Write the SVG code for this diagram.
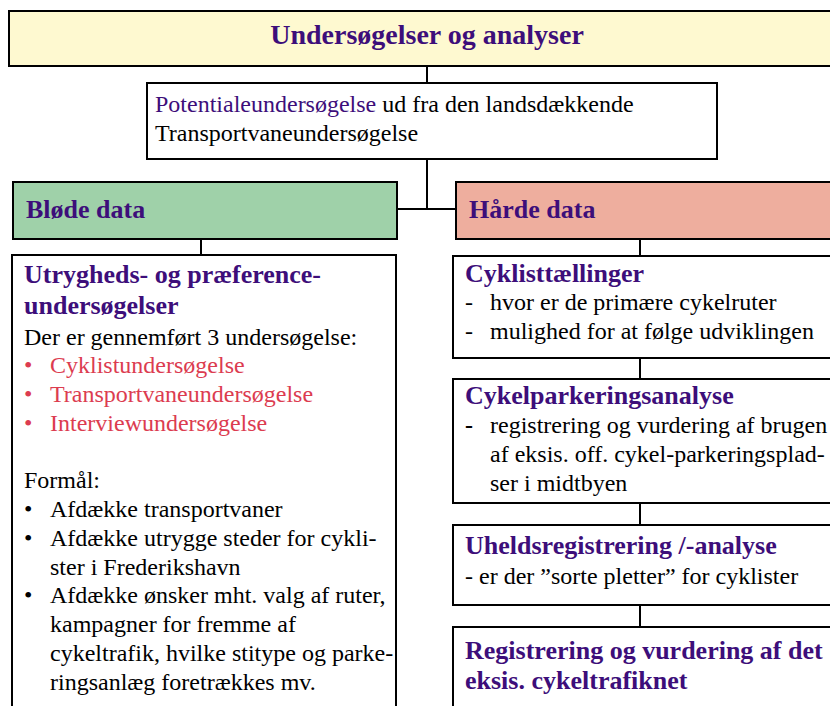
<svg xmlns="http://www.w3.org/2000/svg" width="830" height="706" viewBox="0 0 830 706">
<style>
.box{stroke:#000;stroke-width:2;fill:#fff}
.ln{stroke:#000;stroke-width:2;fill:none}
.h{font-weight:bold;fill:#3d0e7a;font-size:26px}
.b{font-size:24px;fill:#000}
.p{fill:#3d0e7a}
.r{fill:#dc3c50}
</style>
<rect width="830" height="706" fill="#fff"/>
<g id="connectors">
<path class="ln" d="M427 66V83M427 159V209M397 209H456M201 239V255M640 239V256M640 358V379M640 503V525M640 605V627"/>
</g>
<g id="top">
<rect class="box" x="9" y="11" width="830" height="55" style="fill:#fef9d0"/>
<text font-family="Liberation Serif" x="427" y="44" class="h" text-anchor="middle" style="font-size:28px">Undersøgelser og analyser</text>
</g>
<g id="potential">
<rect class="box" x="147" y="83" width="570" height="76"/>
<text font-family="Liberation Serif" class="b" x="155" y="112"><tspan class="p">Potentialeundersøgelse</tspan> ud fra den landsdækkende</text>
<text font-family="Liberation Serif" class="b" x="155" y="141">Transportvaneundersøgelse</text>
</g>
<g id="blode">
<rect class="box" x="13" y="182" width="384" height="57" style="fill:#9fd1a9"/>
<text font-family="Liberation Serif" class="h" x="26" y="218">Bløde data</text>
</g>
<g id="harde">
<rect class="box" x="456" y="182" width="380" height="57" style="fill:#eeae9e"/>
<text font-family="Liberation Serif" class="h" x="469" y="218">Hårde data</text>
</g>
<g id="utryghed">
<rect class="box" x="12" y="255" width="384" height="460"/>
<text font-family="Liberation Serif" class="h" x="24" y="283">Utrygheds- og præference-</text>
<text font-family="Liberation Serif" class="h" x="24" y="314">undersøgelser</text>
<text font-family="Liberation Serif" class="b" x="24" y="345">Der er gennemført 3 undersøgelse:</text>
<text font-family="Liberation Serif" class="b r" x="24" y="373">•</text><text font-family="Liberation Serif" class="b r" x="50" y="373">Cyklistundersøgelse</text>
<text font-family="Liberation Serif" class="b r" x="24" y="402">•</text><text font-family="Liberation Serif" class="b r" x="50" y="402">Transportvaneundersøgelse</text>
<text font-family="Liberation Serif" class="b r" x="24" y="431">•</text><text font-family="Liberation Serif" class="b r" x="50" y="431">Interviewundersøgelse</text>
<text font-family="Liberation Serif" class="b" x="24" y="488">Formål:</text>
<text font-family="Liberation Serif" class="b" x="24" y="517">•</text><text font-family="Liberation Serif" class="b" x="50" y="517">Afdække transportvaner</text>
<text font-family="Liberation Serif" class="b" x="24" y="546">•</text><text font-family="Liberation Serif" class="b" x="50" y="546">Afdække utrygge steder for cykli-</text>
<text font-family="Liberation Serif" class="b" x="50" y="575">ster i Frederikshavn</text>
<text font-family="Liberation Serif" class="b" x="24" y="603">•</text><text font-family="Liberation Serif" class="b" x="50" y="603">Afdække ønsker mht. valg af ruter,</text>
<text font-family="Liberation Serif" class="b" x="50" y="632">kampagner for fremme af</text>
<text font-family="Liberation Serif" class="b" x="50" y="661">cykeltrafik, hvilke stitype og parke-</text>
<text font-family="Liberation Serif" class="b" x="50" y="690">ringsanlæg foretrækkes mv.</text>
</g>
<g id="cyklist">
<rect class="box" x="453" y="256" width="385" height="102"/>
<text font-family="Liberation Serif" class="h" x="465" y="282">Cyklisttællinger</text>
<text font-family="Liberation Serif" class="b" x="465" y="310">-</text><text font-family="Liberation Serif" class="b" x="490" y="310">hvor er de primære cykelruter</text>
<text font-family="Liberation Serif" class="b" x="465" y="339">-</text><text font-family="Liberation Serif" class="b" x="490" y="339">mulighed for at følge udviklingen</text>
</g>
<g id="parkering">
<rect class="box" x="453" y="379" width="385" height="124"/>
<text font-family="Liberation Serif" class="h" x="465" y="404">Cykelparkeringsanalyse</text>
<text font-family="Liberation Serif" class="b" x="465" y="433" font-weight="bold">-</text><text font-family="Liberation Serif" class="b" x="490" y="433">registrering og vurdering af brugen</text>
<text font-family="Liberation Serif" class="b" x="490" y="462">af eksis. off. cykel-parkeringsplad-</text>
<text font-family="Liberation Serif" class="b" x="490" y="491">ser i midtbyen</text>
</g>
<g id="uheld">
<rect class="box" x="453" y="525" width="385" height="80"/>
<text font-family="Liberation Serif" class="h" x="465" y="554">Uheldsregistrering /-analyse</text>
<text font-family="Liberation Serif" class="b" x="465" y="584">- er der ”sorte pletter” for cyklister</text>
</g>
<g id="cykelnet">
<rect class="box" x="453" y="627" width="385" height="100"/>
<text font-family="Liberation Serif" class="h" x="465" y="659">Registrering og vurdering af det</text>
<text font-family="Liberation Serif" class="h" x="465" y="689">eksis. cykeltrafiknet</text>
</g>
</svg>
